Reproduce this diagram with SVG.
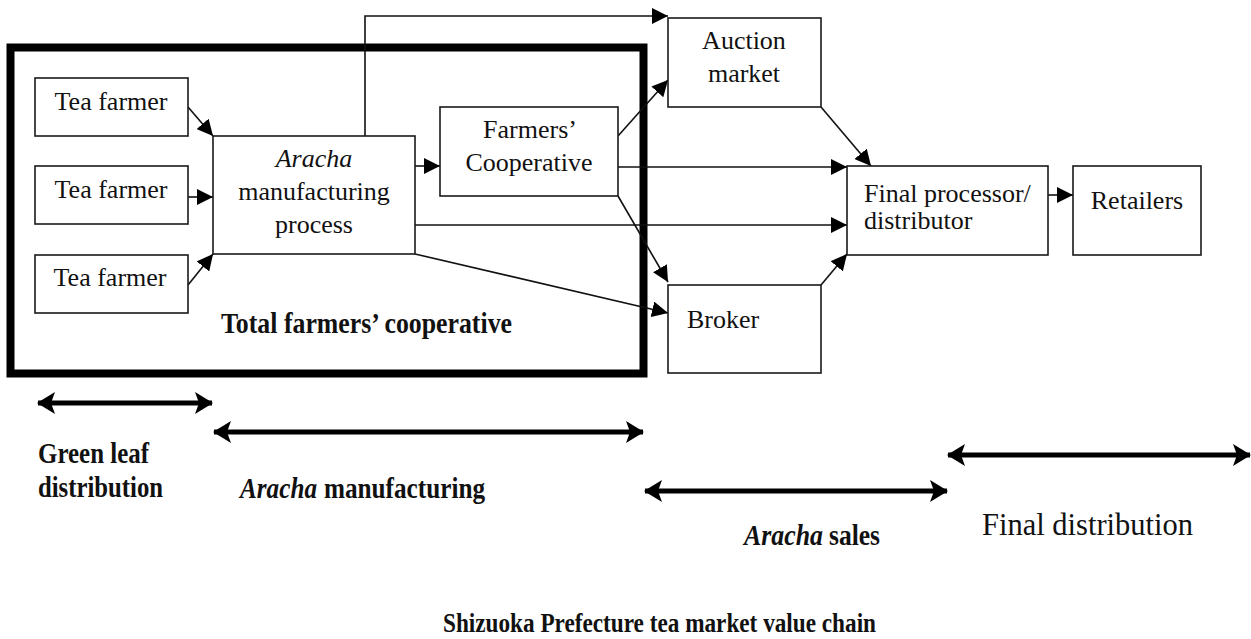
<svg xmlns="http://www.w3.org/2000/svg" width="1251" height="639" viewBox="0 0 1251 639">
  <style>
    .box { fill: #fff; stroke: #1a1a1a; stroke-width: 1.6; }
    .frame { fill: none; stroke: #000; stroke-width: 8; }
    .lbl { font-family: "Liberation Serif", "Times New Roman", serif; font-size: 26px; fill: #111; }
    .mid { text-anchor: middle; }
    .bold { font-weight: bold; }
    .ital { font-style: italic; }
    .stage { font-size: 29px; }
    .conn { fill: none; stroke: #111; stroke-width: 1.6; }
    .span { fill: none; stroke: #000; stroke-width: 5; }
  </style>
  <defs>
    <marker id="arrow" viewBox="0 0 16 16" markerWidth="16" markerHeight="16" refX="16" refY="8" orient="auto" markerUnits="userSpaceOnUse">
      <path d="M0,0 L16,8 L0,16 z" fill="#000"/>
    </marker>
    <marker id="spanEnd" viewBox="0 0 18 22" markerWidth="18" markerHeight="22" refX="17" refY="11" orient="auto-start-reverse" markerUnits="userSpaceOnUse">
      <path d="M0,0 L18,11 L0,22 L4,11 z" fill="#000"/>
    </marker>
  </defs>

  <rect width="1251" height="639" fill="#fff"/>

  <!-- cooperative boundary -->
  <g id="total-cooperative">
    <rect class="frame" x="10.5" y="47.5" width="633" height="326"/>
    <text class="lbl bold stage" x="221" y="333" textLength="291" lengthAdjust="spacingAndGlyphs">Total farmers’ cooperative</text>
  </g>

  <!-- connectors -->
  <g id="connectors">
    <line class="conn" x1="188" y1="107" x2="213" y2="136" marker-end="url(#arrow)"/>
    <line class="conn" x1="188" y1="197" x2="213" y2="197" marker-end="url(#arrow)"/>
    <line class="conn" x1="188" y1="285" x2="213" y2="254" marker-end="url(#arrow)"/>
    <polyline class="conn" points="365,136 365,16 668,16" marker-end="url(#arrow)"/>
    <line class="conn" x1="415" y1="166" x2="440" y2="166" marker-end="url(#arrow)"/>
    <line class="conn" x1="415" y1="225" x2="847" y2="225" marker-end="url(#arrow)"/>
    <line class="conn" x1="415" y1="254" x2="668" y2="313" marker-end="url(#arrow)"/>
    <line class="conn" x1="618" y1="136" x2="668" y2="80" marker-end="url(#arrow)"/>
    <line class="conn" x1="618" y1="167" x2="847" y2="167" marker-end="url(#arrow)"/>
    <line class="conn" x1="618" y1="196" x2="668" y2="282" marker-end="url(#arrow)"/>
    <line class="conn" x1="821" y1="107" x2="871" y2="166" marker-end="url(#arrow)"/>
    <line class="conn" x1="821" y1="285" x2="847" y2="254" marker-end="url(#arrow)"/>
    <line class="conn" x1="1048" y1="195" x2="1073" y2="195" marker-end="url(#arrow)"/>
  </g>

  <!-- nodes -->
  <g id="tea-farmer-1">
    <rect class="box" x="35" y="78" width="153" height="58"/>
    <text class="lbl mid" x="111" y="110">Tea farmer</text>
  </g>
  <g id="tea-farmer-2">
    <rect class="box" x="35" y="166" width="153" height="58"/>
    <text class="lbl mid" x="111" y="198">Tea farmer</text>
  </g>
  <g id="tea-farmer-3">
    <rect class="box" x="35" y="255" width="153" height="58"/>
    <text class="lbl mid" x="110" y="286">Tea farmer</text>
  </g>
  <g id="aracha-process">
    <rect class="box" x="213" y="136" width="202" height="118"/>
    <text class="lbl mid ital" x="314" y="167">Aracha</text>
    <text class="lbl mid" x="314" y="200">manufacturing</text>
    <text class="lbl mid" x="314" y="233">process</text>
  </g>
  <g id="farmers-cooperative">
    <rect class="box" x="440" y="107" width="178" height="89"/>
    <text class="lbl mid" x="530" y="138">Farmers’</text>
    <text class="lbl mid" x="529" y="171">Cooperative</text>
  </g>
  <g id="auction-market">
    <rect class="box" x="668" y="18" width="153" height="89"/>
    <text class="lbl mid" x="744" y="49">Auction</text>
    <text class="lbl mid" x="744" y="82">market</text>
  </g>
  <g id="broker">
    <rect class="box" x="668" y="285" width="153" height="88"/>
    <text class="lbl" x="687" y="328">Broker</text>
  </g>
  <g id="final-processor">
    <rect class="box" x="847" y="166" width="201" height="89"/>
    <text class="lbl" x="864" y="202">Final processor/</text>
    <text class="lbl" x="864" y="229">distributor</text>
  </g>
  <g id="retailers">
    <rect class="box" x="1073" y="166" width="128" height="89"/>
    <text class="lbl mid" x="1137" y="209">Retailers</text>
  </g>

  <!-- stage spans -->
  <g id="stage-green-leaf">
    <line class="span" x1="38" y1="403" x2="212" y2="403" marker-start="url(#spanEnd)" marker-end="url(#spanEnd)"/>
    <text class="lbl bold stage" x="38" y="463" textLength="111" lengthAdjust="spacingAndGlyphs">Green leaf</text>
    <text class="lbl bold stage" x="38" y="497" textLength="125" lengthAdjust="spacingAndGlyphs">distribution</text>
  </g>
  <g id="stage-aracha-manufacturing">
    <line class="span" x1="214" y1="432" x2="643" y2="432" marker-start="url(#spanEnd)" marker-end="url(#spanEnd)"/>
    <text class="lbl bold ital stage" x="240" y="498" textLength="77" lengthAdjust="spacingAndGlyphs">Aracha</text>
    <text class="lbl bold stage" x="324" y="498" textLength="161" lengthAdjust="spacingAndGlyphs">manufacturing</text>
  </g>
  <g id="stage-aracha-sales">
    <line class="span" x1="645" y1="491" x2="947" y2="491" marker-start="url(#spanEnd)" marker-end="url(#spanEnd)"/>
    <text class="lbl bold ital stage" x="744" y="545" textLength="79" lengthAdjust="spacingAndGlyphs">Aracha</text>
    <text class="lbl bold stage" x="829" y="545" textLength="51" lengthAdjust="spacingAndGlyphs">sales</text>
  </g>
  <g id="stage-final-distribution">
    <line class="span" x1="948" y1="455" x2="1250" y2="455" marker-start="url(#spanEnd)" marker-end="url(#spanEnd)"/>
    <text class="lbl" x="982" y="535" style="font-size:32px" textLength="211" lengthAdjust="spacingAndGlyphs">Final distribution</text>
  </g>

  <text class="lbl bold" x="443" y="632" style="font-size:28px" textLength="433" lengthAdjust="spacingAndGlyphs">Shizuoka Prefecture tea market value chain</text>
</svg>
